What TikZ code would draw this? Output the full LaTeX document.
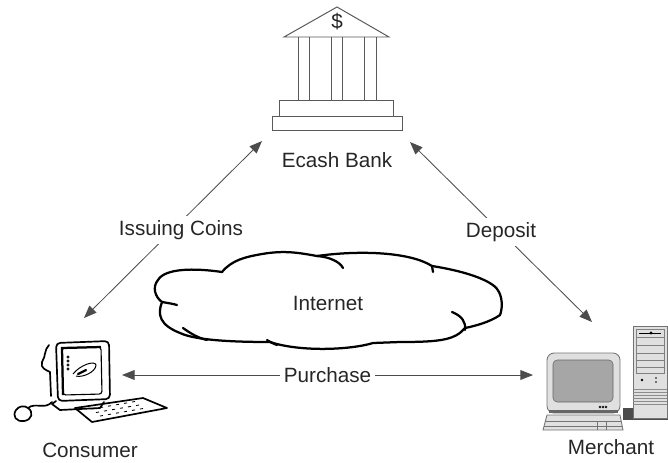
\documentclass[tikz,border=0pt]{standalone}
\usepackage{fontspec}
\setmainfont{Liberation Sans}
\usetikzlibrary{arrows.meta}
\tikzset{
  lbl/.style={font=\fontsize{14.7}{17}\selectfont,text=black!85},
  tag/.style={lbl,fill=white,inner sep=3pt},
  link/.style={draw=black!70,line width=0.6pt,{Triangle[length=9pt,width=7pt]}-{Triangle[length=9pt,width=7pt]}},
  bankline/.style={draw=black!65,line width=0.7pt},
  cloudline/.style={line width=1.6pt,line cap=round,line join=round},
  inkline/.style={line width=1.2pt,line cap=round,line join=round},
  greybox/.style={draw=black!55,fill=black!12,line width=0.6pt}
}

\begin{document}
\begin{tikzpicture}[x=0.025cm,y=-0.025cm]
\useasboundingbox (0,0) rectangle (668,462);

% bank
\draw [bankline] (284,37) -- (337,7) -- (389,37) -- cycle;
\node [lbl] (dollar) at (337,22){\$};
\foreach \x in {298,309,331,342,364,376}
  \draw [bankline] (\x,37) -- (\x,100);
\draw [bankline] (279,100) rectangle (393,116);
\draw [bankline] (272,116) rectangle (402,130);
\node [lbl] (bank) at (337,160){Ecash Bank};

% cloud
\draw [cloudline] (158,280) .. controls (165,268) and (195,268) .. (222,272)
  .. controls (232,260) and (245,257) .. (262,254)
  .. controls (285,250) and (300,253) .. (317,256)
  .. controls (360,250) and (410,252) .. (432,266)
  .. controls (470,272) and (495,282) .. (499,292)
  .. controls (503,300) and (502,310) .. (500,315)
  .. controls (490,322) and (475,326) .. (465,328)
  .. controls (455,340) and (440,342) .. (400,342)
  -- (373,343)
  .. controls (350,350) and (300,352) .. (270,342)
  .. controls (230,342) and (195,340) .. (180,333)
  .. controls (160,325) and (157,315) .. (162,302)
  .. controls (155,297) and (152,287) .. cycle;
\draw [cloudline] (317,256) .. controls (330,257) and (340,262) .. (343,268);
\draw [cloudline] (162,302) .. controls (168,303) and (174,304) .. (177,305);
\draw [cloudline] (183,328) .. controls (190,333) and (198,338) .. (207,340);
\draw [cloudline] (267,340) .. controls (270,342) and (274,344) .. (277,345);
\draw [cloudline] (452,312) .. controls (462,316) and (466,322) .. (465,330);
\draw [cloudline] (432,266) -- (433,272);
\node [lbl] (internet) at (328,303){Internet};

% consumer pc
\draw [inkline,rounded corners=3] (56,343) -- (109,341) -- (110,399) -- (58,401) -- cycle;
\draw [line width=0.8pt,rounded corners=2] (62,348) -- (101,347) -- (102,394) -- (63,395) -- cycle;
\draw [line width=1.6pt] (63,395) -- (62,348) -- (101,347);
\draw [inkline] (49,345) .. controls (44,350) and (46,356) .. (42,362)
  .. controls (40,368) and (46,370) .. (50,372) -- (51,396);
\draw [line width=0.7pt] (73,374) .. controls (80,365) and (95,360) .. (96,365)
  .. controls (96,372) and (82,378) .. (76,376);
\draw [line width=1.6pt,line cap=round] (78,374) -- (86,370);
\foreach \y in {357,361,365,369}
  \draw [line width=0.5pt] (68,\y) circle (1.2);
\draw [inkline] (56,401) -- (52,404) -- (60,410) -- (100,408) -- (104,402);
\draw [inkline] (75,408) -- (143,398) -- (167,408) -- (92,422) -- cycle;
\foreach \i in {0,...,5}
  \foreach \j in {0,1,2}
    \draw [line width=0.6pt] ({92+8*\i+4*\j},{409-1.4*\i+3.5*\j}) -- +(3,-0.5);
\draw [inkline] (16,410) .. controls (12,416) and (16,422) .. (24,421)
  .. controls (32,420) and (34,412) .. (28,408)
  .. controls (24,405) and (19,406) .. cycle;
\draw [inkline] (28,408) .. controls (35,402) and (45,410) .. (52,402);
\node [lbl] (consumer) at (90,450){Consumer};

% merchant pc
\fill [black!70] (623,408) rectangle (668,420);
\draw [greybox] (633,326) rectangle (667,418);
\draw [black!50,line width=0.5pt] (636,329) rectangle (664,373);
\foreach \y in {337,345,353,360,367}
  \draw [black!50,line width=0.5pt] (636,\y) -- (664,\y);
\draw [line width=0.6pt] (639,333) -- (661,333);
\fill (651,333) circle (1.6);
\fill (642,380) circle (1.4);
\fill (656,378) circle (0.8);
\fill (656,382) circle (0.8);
\foreach \y in {389,392,...,404}
  \draw [black!45,line width=0.5pt] (633,\y) -- (667,\y);
\draw [greybox,rounded corners=5] (547,353) rectangle (620,413);
\draw [draw=black!60,fill=black!35,rounded corners=3] (553,360) rectangle (613,402);
\foreach \x in {600,603,606}
  \draw [line width=0.4pt] (\x,407) circle (1);
\fill [black!60] (549,410) rectangle (618,413);
\draw [greybox] (547,415) -- (620,415) -- (623,430) -- (543,430) -- cycle;
\draw [black!55,line width=0.5pt] (545,421) -- (621,421);
\draw [black!55,line width=0.5pt] (544,426) -- (622,426);
\draw [black!55,line width=0.5pt] (597,421) -- (597,430);
\draw [black!55,line width=0.5pt] (606,421) -- (606,430);
\node [lbl] (merchant) at (611,447){Merchant};

% arrows
\coordinate (bankL) at (262,141);
\coordinate (bankR) at (410,142);
\coordinate (consumerN) at (84,318);
\coordinate (consumerE) at (122,375);
\coordinate (merchantN) at (592,322);
\coordinate (merchantW) at (533,375);
\draw [link] (consumerN) -- (bankL);
\node [tag] (issuing) at (181,230){Issuing Coins};
\draw [link] (bankR) -- node [tag] (deposit){Deposit} (merchantN);
\draw [link] (consumerE) -- node [tag] (purchase){Purchase} (merchantW);
\end{tikzpicture}
\end{document}
